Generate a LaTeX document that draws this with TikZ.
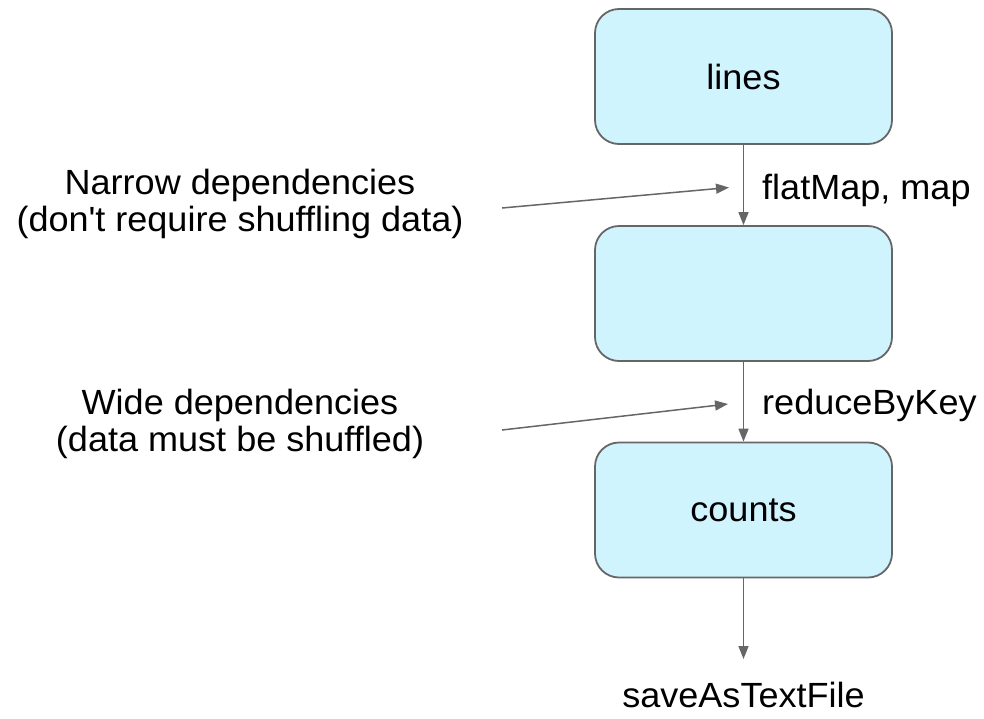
\documentclass[tikz,border=0pt]{standalone}
\usepackage{fontspec}
\setmainfont{Liberation Sans}[FakeStretch=1.03]
\usetikzlibrary{arrows.meta}
\definecolor{boxfill}{HTML}{D0F4FE}
\definecolor{edge}{HTML}{666666}
\tikzset{
  rdd/.style={draw=edge, line width=1.8pt, fill=boxfill, rounded corners=24pt,
    minimum width=297pt, minimum height=135pt, inner sep=0pt, font=\fontsize{35}{37}\selectfont},
  lbl/.style={inner sep=0pt, font=\fontsize{35}{37}\selectfont, align=center},
  conn/.style={draw=edge, line width=1.5pt, -{Triangle[length=13pt,width=10pt]}}
}
\begin{document}
\begin{tikzpicture}[x=1pt,y=-1pt]
\useasboundingbox (0,0) rectangle (984,718);
\node[rdd] (lines) at (743.5,76.5) {lines};
\node[rdd] (mid) at (743.5,293.5) {};
\node[rdd] (counts) at (743.5,510) {counts};
\coordinate (out) at (743.5,659);
\node[lbl, anchor=west] (fm) at (762,190) {flatMap, map};
\node[lbl, anchor=west] (rbk) at (762,405) {reduceByKey};
\node[inner sep=0pt, font=\fontsize{35}{37}\selectfont, anchor=base] (save) at (743.5,707) {saveAsTextFile};
\node[lbl] (narrow) at (240,204) {Narrow dependencies\\(don\textquotesingle t require shuffling data)};
\node[lbl] (wide) at (240,424) {Wide dependencies\\(data must be shuffled)};
\coordinate (n1) at (502,208);
\coordinate (n2) at (729,187.5);
\coordinate (w1) at (502,430);
\coordinate (w2) at (728,404);
\draw[conn] (lines) -- (mid);
\draw[conn] (mid) -- (counts);
\draw[conn] (counts) -- (out);
\draw[conn] (n1) -- (n2);
\draw[conn] (w1) -- (w2);
\end{tikzpicture}
\end{document}
